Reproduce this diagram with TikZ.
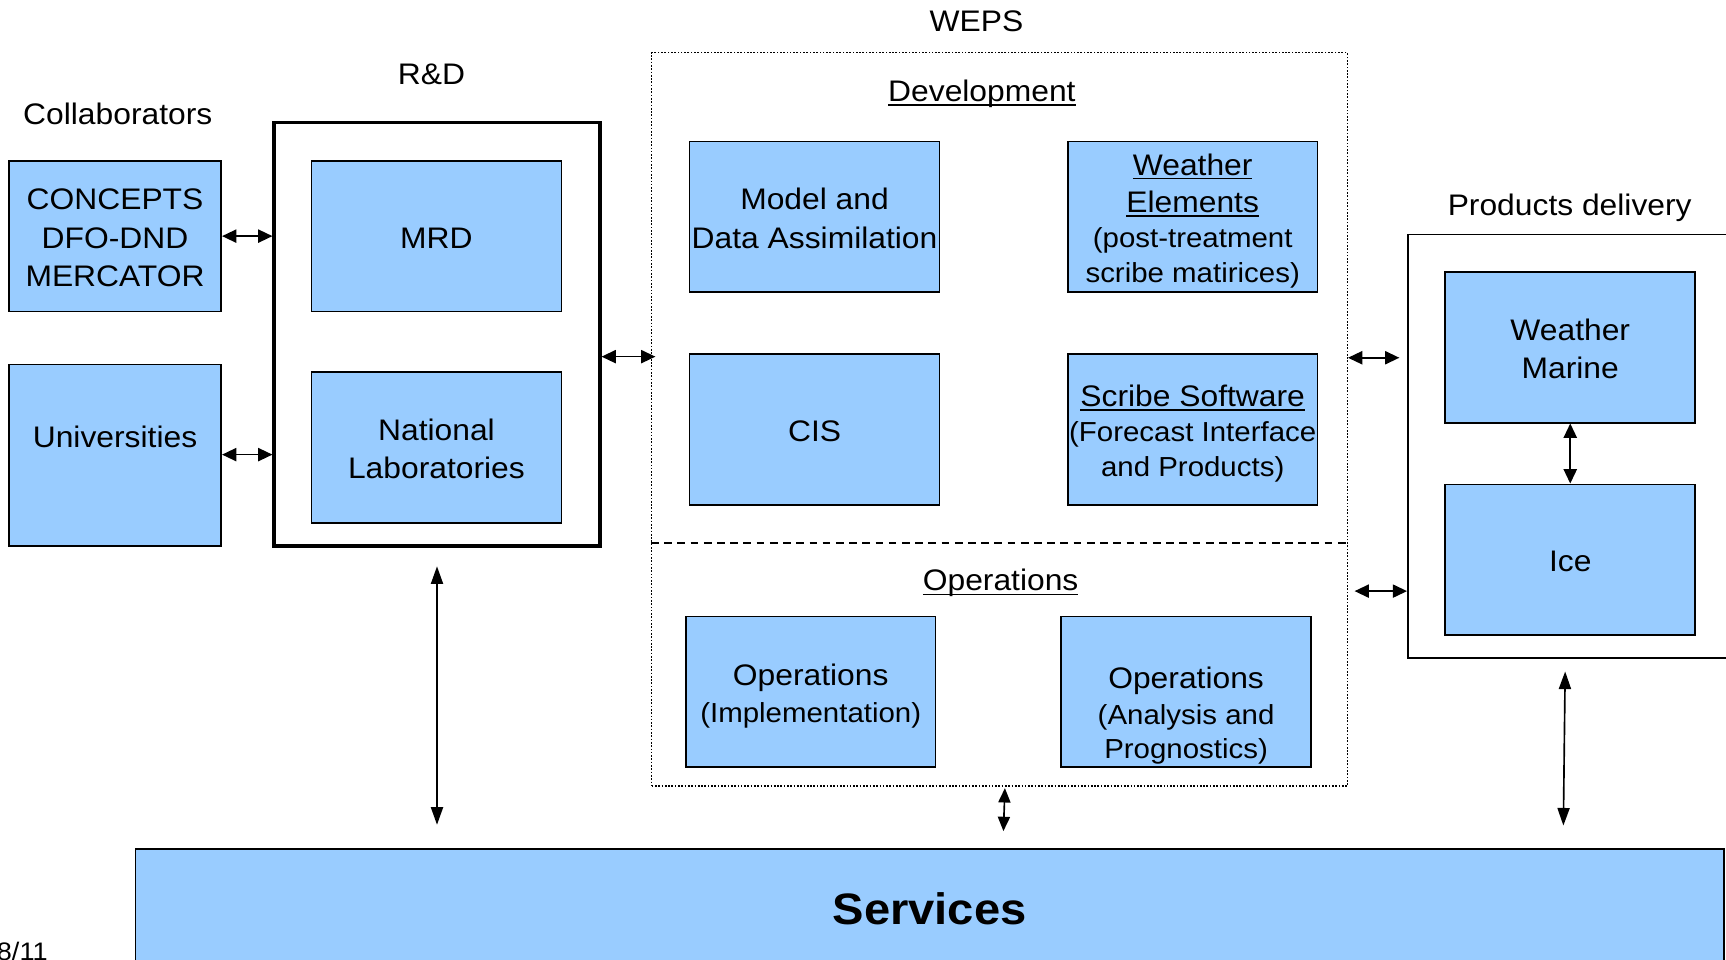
\documentclass[tikz,border=0pt]{standalone}
\usepackage{fontspec}
\setmainfont{Liberation Sans}[FakeStretch=1.07]
\usetikzlibrary{arrows.meta}
\definecolor{boxblue}{HTML}{99CCFF}
\newcommand\txtbig{\fontsize{27}{35}\selectfont}
\newcommand\txtsmall{\fontsize{25}{35}\selectfont}
% underline at a fixed distance below the baseline
\newsavebox\ulbox
\newcommand\ul[1]{\sbox\ulbox{#1}\rlap{\vrule width \wd\ulbox height -2.5pt depth 4pt}\usebox\ulbox}
% fixed top and bottom struts so every box label sits the same way
\newcommand\bx[1]{\rule{0pt}{28pt}#1\rule[-6pt]{0pt}{6pt}}

\begin{document}
\begin{tikzpicture}[x=1pt,y=-1pt,
  txt/.style={font=\txtbig, align=center, inner sep=0pt},
  box/.style={txt, draw, line width=1.5pt, fill=boxblue,
              minimum width=227pt, minimum height=137pt},
  heading/.style={font=\txtbig, inner sep=0pt, anchor=base},
  arr/.style={{Triangle[length=13pt,width=12pt]}-{Triangle[length=13pt,width=12pt]}, line width=1.5pt},
  longarr/.style={{Triangle[length=16pt,width=11pt]}-{Triangle[length=16pt,width=11pt]}, line width=1.5pt},
  shortarr/.style={{Triangle[length=13pt,width=11pt]}-{Triangle[length=13pt,width=11pt]}, line width=1.5pt},
]
\clip (0,0) rectangle (1568,872);
\fill[white] (0,0) rectangle (1568,872);

% headings
\node[heading] (hweps)   at (887,28.7)    {WEPS};
\node[heading] (hrd)     at (392,76.7)    {R\&D};
\node[heading] (hcollab) at (107,112.7)   {Collaborators};
\node[heading] (hdev)    at (892,92.4)    {\ul{Development}};
\node[heading] (hprod)   at (1426,195.7)  {Products delivery};
\node[heading] (hops)    at (909,536.7)   {\ul{Operations}};

% containers
\node[draw, line width=3pt, minimum width=296pt, minimum height=385pt, inner sep=0pt]
  (rd) at (397,303.5) {};
\node[draw, line width=1.2pt, dash pattern=on 1.5pt off 1.5pt, minimum width=632pt,
  minimum height=666pt, inner sep=0pt] (weps) at (908,381) {};
\node[draw, line width=1.5pt, minimum width=321pt, minimum height=385pt, inner sep=0pt]
  (prod) at (1439.5,405.5) {};
\draw[line width=1.5pt, dash pattern=on 7pt off 5pt] (weps.west |- 0,493) -- (weps.east |- 0,493);

% collaborators
\node[box, minimum width=193pt] (concepts) at (104.5,214.5) {\bx{CONCEPTS\\DFO-DND\\MERCATOR}};
\node[box, minimum width=193pt, minimum height=165pt] (univ) at (104.5,413.5) {};
\node[txt] (univtext) at (104.5,395.5) {\bx{Universities}};

% R&D
\node[box] (mrd) at (396.5,214.5) {\bx{MRD}};
\node[box] (natlab) at (396.5,406.5) {\bx{National\\Laboratories}};

% development
\node[box] (model) at (740,197) {\bx{Model and\\Data Assimilation}};
\node[box] (wele) at (1083.5,197)
  {\bx{\ul{Weather}\\[-1pt]\ul{Elements}\\[-3pt]{\txtsmall (post-treatment}\\[-3pt]{\txtsmall scribe matirices)}}};
\node[box] (cis) at (740,390) {\bx{CIS}};
\node[box] (scribe) at (1083.5,390)
  {\bx{\ul{Scribe Software}\\[-3pt]{\txtsmall (Forecast Interface}\\[-3pt]{\txtsmall and Products)}}};

% operations
\node[box] (opsi) at (736.5,628.5) {\bx{Operations\\[-1.5pt]{\txtsmall (Implementation)}}};
\node[box] (opsa) at (1077.5,628.5) {};
\node[txt] (opsatext) at (1077.5,646.3)
  {\bx{Operations\\[-2.5pt]{\txtsmall (Analysis and}\\[-3.5pt]{\txtsmall Prognostics)}}};

% products delivery
\node[box] (wm) at (1426.5,315.5) {\bx{Weather\\Marine}};
\node[box] (ice) at (1426.5,508.5) {\bx{Ice}};

% services
\node[box, minimum width=1443pt, minimum height=109pt,
  font=\bfseries\fontsize{40}{48}\selectfont] (services) at (844.5,825.5) {Services};

% page number
\node[anchor=base west, inner sep=0pt, font=\fontsize{23}{26}\selectfont] (pg) at (-3,873) {8/11};

% connectors
\draw[arr] (concepts.east) -- (concepts.east -| rd.west);
\draw[arr] (univ.east |- 0,413) -- (rd.west |- 0,413);
\draw[arr, shorten >=-4pt] (rd.east |- 0,324) -- (weps.west |- 0,324);
\draw[arr, shorten >=7pt] (weps.east |- 0,325) -- (prod.west |- 0,325);
\draw[arr, shorten <=6pt] (weps.east |- 0,537) -- (prod.west |- 0,537);
\draw[arr] (wm.south) -- (ice.north);
\draw[longarr, shorten <=17pt, shorten >=21pt] (rd.south) -- (rd.south |- services.north);
\coordinate (wepsfoot) at (913,714);
\coordinate (servmid) at (911,771);
\draw[shortarr, shorten <=2pt, shorten >=16pt] (wepsfoot) -- (servmid);
\coordinate (prodfoot) at (1422,598);
\coordinate (servright) at (1420,771);
\draw[longarr, shorten <=12pt, shorten >=21pt] (prodfoot) -- (servright);
\end{tikzpicture}
\end{document}
